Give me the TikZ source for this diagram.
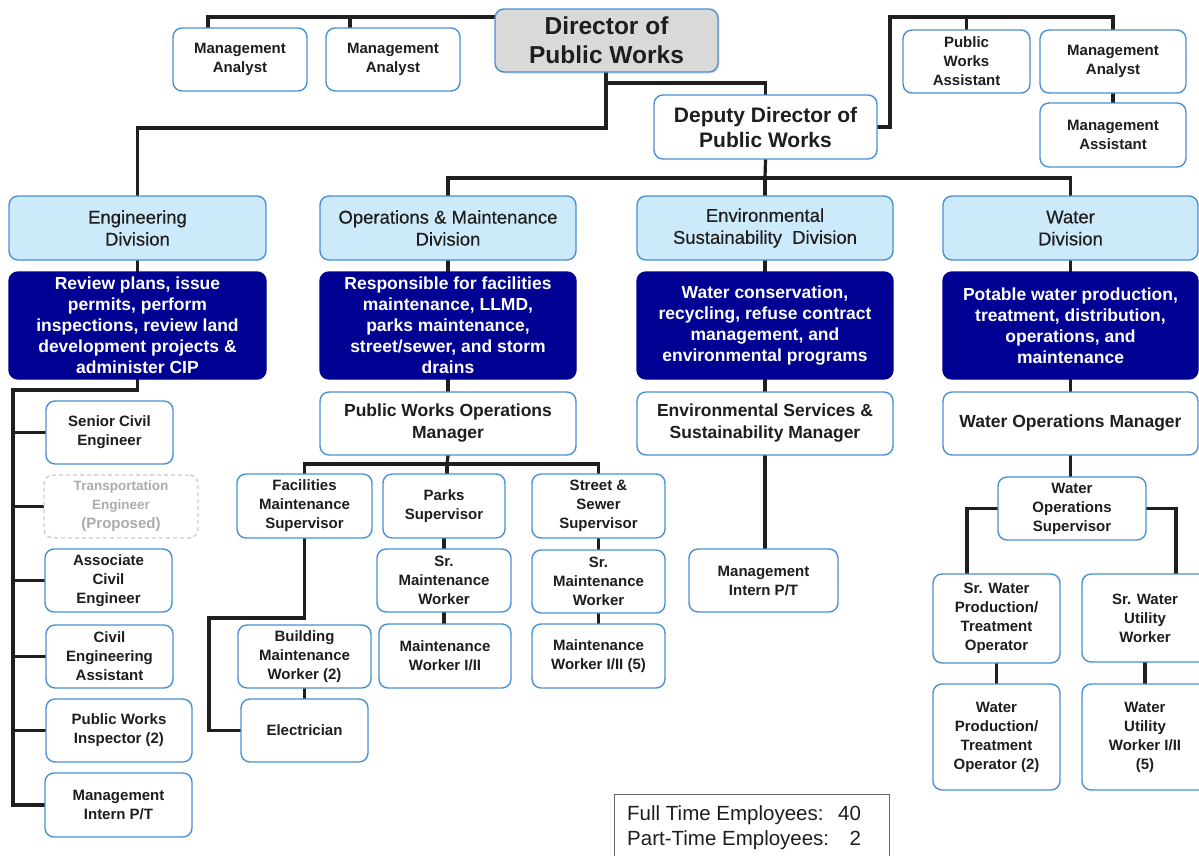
\documentclass[tikz,border=0pt]{standalone}
\usepackage{fontspec}
\setmainfont{Liberation Sans}
\newfontfamily\hdrfont[FakeBold=0.4]{Liberation Sans}
\usetikzlibrary{backgrounds,shadows}
\definecolor{bd}{HTML}{4A90D4}
\definecolor{hdr}{HTML}{CDEAFB}
\definecolor{navy}{HTML}{000093}
\definecolor{txt}{HTML}{1E1E1E}
\definecolor{dirfill}{HTML}{D9D9D9}
\newcommand\fsm{\fontsize{15}{19}\selectfont\bfseries}
\newcommand\fhd{\hdrfont\fontsize{18.5}{22}\selectfont}
\newcommand\fds{\fontsize{17.5}{21}\selectfont\bfseries}
\newcommand\fmg{\fontsize{17.5}{22}\selectfont\bfseries}
\newcommand\fdir{\fontsize{24.5}{29}\selectfont\bfseries}
\newcommand\fdep{\fontsize{21}{25}\selectfont\bfseries}
\newcommand\bx[7]{\node[#1, minimum width={(#5)-(#3)}, minimum height={(#6)-(#4)}] (#2) at ({((#3)+(#5))/2},{((#4)+(#6))/2}) {#7};}
\tikzset{
  box/.style={draw=bd, line width=1.4pt, rounded corners=9pt, fill=white, align=center, inner sep=0pt, text=txt, font=\fsm},
  propbox/.style={box, draw=gray!40, dash pattern=on 4pt off 3pt, text=gray!65},
  dirbox/.style={box, fill=dirfill, font=\fdir, drop shadow={shadow xshift=1.5pt, shadow yshift=-1.5pt, opacity=0.25}},
  depbox/.style={box, font=\fdep},
  hdrbox/.style={box, fill=hdr, font=\fhd},
  descbox/.style={box, fill=navy, draw=navy, text=white, font=\fds},
  mgrbox/.style={box, font=\fmg},
  conn/.style={line width=3.2pt, draw=black!88, line cap=rect},
  sumbox/.style={draw=black!60, line width=0.9pt}
}
\begin{document}
\begin{tikzpicture}[x=1pt,y=-1pt]
\useasboundingbox (0,0) rectangle (1199,855);
% top
\bx{box}{ma1}{173}{28}{307}{91}{Management\\Analyst}
\bx{box}{ma2}{326}{28}{460}{91}{Management\\Analyst}
\bx{dirbox}{dir}{495}{9}{718}{72}{Director of\\Public Works}
\bx{depbox}{dep}{654}{95}{877}{159}{Deputy Director of\\Public Works}
\bx{box}{pwa}{903}{30}{1030}{93}{Public\\Works\\Assistant}
\bx{box}{ma3}{1040}{30}{1186}{93}{Management\\Analyst}
\bx{box}{mas}{1040}{103}{1186}{167}{Management\\Assistant}
% divisions
\bx{hdrbox}{eng}{9}{196}{266}{260}{Engineering\\Division}
\bx{hdrbox}{om}{320}{196}{576}{260}{Operations \& Maintenance\\Division}
\bx{hdrbox}{env}{637}{196}{893}{260}{Environmental\\Sustainability\ \ Division}
\bx{hdrbox}{wat}{943}{196}{1198}{260}{Water\\Division}
% descriptions
\bx{descbox}{engd}{9}{272}{266}{379}{Review plans, issue\\permits, perform\\inspections, review land\\development projects \&\\administer CIP}
\bx{descbox}{omd}{320}{272}{576}{379}{Responsible for facilities\\maintenance, LLMD,\\parks maintenance,\\street/sewer, and storm\\drains}
\bx{descbox}{envd}{637}{272}{893}{379}{Water conservation,\\recycling, refuse contract\\management, and\\environmental programs}
\bx{descbox}{watd}{943}{272}{1198}{379}{Potable water production,\\treatment, distribution,\\operations, and\\maintenance}
% managers
\bx{mgrbox}{pwom}{320}{392}{576}{455}{Public Works Operations\\Manager}
\bx{mgrbox}{esm}{637}{392}{893}{455}{Environmental Services \&\\Sustainability Manager}
\bx{mgrbox}{wom}{943}{392}{1198}{455}{Water Operations Manager}
% engineering column
\bx{box}{sce}{46}{401}{173}{464}{Senior Civil\\Engineer}
\bx{propbox}{te}{44}{475}{198}{538}{{\fontsize{13.5}{17}\selectfont Transportation}\\{\fontsize{13.5}{17}\selectfont Engineer}\\(Proposed)}
\bx{box}{ace}{45}{549}{172}{612}{Associate\\Civil\\Engineer}
\bx{box}{cea}{46}{625}{173}{688}{Civil\\Engineering\\Assistant}
\bx{box}{pwi}{46}{699}{192}{762}{Public Works\\Inspector (2)}
\bx{box}{mi}{45}{773}{192}{837}{Management\\Intern P/T}
% O&M column
\bx{box}{fms}{237}{474}{372}{538}{Facilities\\Maintenance\\Supervisor}
\bx{box}{ps}{383}{474}{505}{538}{Parks\\Supervisor}
\bx{box}{sss}{532}{474}{665}{538}{Street \&\\Sewer\\Supervisor}
\bx{box}{smw1}{377}{549}{511}{612}{Sr.\\Maintenance\\Worker}
\bx{box}{mw1}{379}{624}{511}{688}{Maintenance\\Worker I/II}
\bx{box}{smw2}{532}{550}{665}{613}{Sr.\\Maintenance\\Worker}
\bx{box}{mw2}{532}{624}{665}{688}{Maintenance\\Worker I/II (5)}
\bx{box}{bmw}{238}{625}{371}{688}{Building\\Maintenance\\Worker (2)}
\bx{box}{el}{241}{699}{368}{762}{Electrician}
% environmental
\bx{box}{mi2}{689}{549}{838}{612}{Management\\Intern P/T}
% water
\bx{box}{wos}{998}{477}{1146}{540}{Water\\Operations\\Supervisor}
\bx{box}{swp}{933}{574}{1060}{663}{Sr. Water\\Production/\\Treatment\\Operator}
\bx{box}{swu}{1082}{574}{1208}{662}{Sr. Water\\Utility\\Worker}
\bx{box}{wp2}{933}{684}{1060}{790}{Water\\Production/\\Treatment\\Operator (2)}
\bx{box}{wu2}{1082}{684}{1208}{790}{Water\\Utility\\Worker I/II\\(5)}
% summary
\draw[sumbox] (614,794) rectangle (889,880);
\node[anchor=base west, inner sep=0pt, text=txt, font=\fontsize{20.5}{25}\selectfont] (sum) at (627,820)
  {\begin{tabular}[t]{@{}l@{\hspace{9pt}}r@{}}Full Time Employees: & 40\\ Part-Time Employees: & 2\end{tabular}};
% connectors
\coordinate (jA) at (208,17);
\coordinate (jB) at (350,17);
\coordinate (jD) at (606,128);
\coordinate (jE) at (606,83);
\coordinate (jF) at (890,17);
\coordinate (jG) at (765,178);
\coordinate (jH) at (13,390);
\coordinate (jI) at (447,464);
\coordinate (jJ) at (209,618);
\coordinate (jK) at (967,514);
\coordinate (jL) at (1176,514);
\begin{scope}[on background layer]
\draw[conn] (dir.west |- jA) -| (jA |- ma1.north);
\draw[conn] (jB) -- (jB |- ma2.north);
\draw[conn] (dir.south -| jD) -- (jD) -| (eng.north);
\draw[conn] (jE) -| (dep.north);
\draw[conn] (dep.east) -| (jF) -| (ma3.north);
\draw[conn] (pwa.north |- jF) -- (pwa.north);
\draw[conn] (ma3.south) -- (mas.north);
\draw[conn] (dep.south) -- (jG);
\draw[conn] (om.north) |- (jG) -| (wat.north);
\draw[conn] (jG) -- (env.north);
\draw[conn] (eng.south) -- (engd.north);
\draw[conn] (om.south) -- (omd.north);
\draw[conn] (env.south) -- (envd.north);
\draw[conn] (wat.south) -- (watd.north);
\draw[conn] (omd.south) -- (pwom.north);
\draw[conn] (envd.south) -- (esm.north);
\draw[conn] (watd.south) -- (wom.north);
% engineering
\draw[conn] (engd.south) |- (jH) -- (jH |- mi.west);
\draw[conn] (jH |- sce.west) -- (sce.west);
\draw[conn] (jH |- te.west) -- (te.west);
\draw[conn] (jH |- ace.west) -- (ace.west);
\draw[conn] (jH |- cea.west) -- (cea.west);
\draw[conn] (jH |- pwi.west) -- (pwi.west);
\draw[conn] (jH |- mi.west) -- (mi.west);
% O&M
\draw[conn] (pwom.south) -- (jI);
\draw[conn] (fms.north) |- (jI) -| (sss.north);
\draw[conn] (jI) -- (jI |- ps.north);
\draw[conn] (ps.south) -- (smw1.north);
\draw[conn] (smw1.south) -- (smw1.south |- mw1.north);
\draw[conn] (sss.south) -- (smw2.north);
\draw[conn] (smw2.south) -- (mw2.north);
\draw[conn] (fms.south) |- (jJ) |- (el.west);
\draw[conn] (bmw.south) -- (bmw.south |- el.north);
% environmental
\draw[conn] (esm.south) -- (esm.south |- mi2.north);
% water
\draw[conn] (wom.south) -- (wom.south |- wos.north);
\draw[conn] (wos.west) -| (jK |- swp.north);
\draw[conn] (wos.east) -| (jL |- swu.north);
\draw[conn] (swp.south) -- (wp2.north);
\draw[conn] (swu.south) -- (wu2.north);
\end{scope}
\end{tikzpicture}
\end{document}
